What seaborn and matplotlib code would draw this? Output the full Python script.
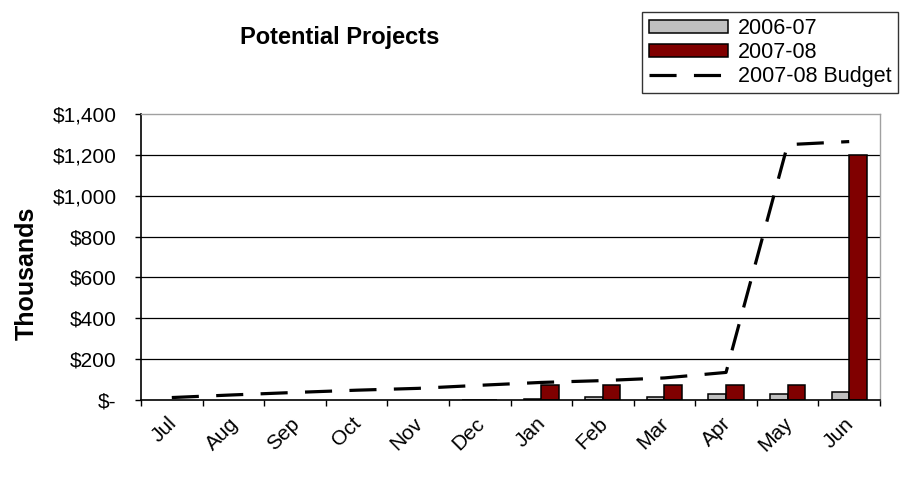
import matplotlib
matplotlib.use('Agg')
import matplotlib.pyplot as plt
import matplotlib.transforms as mtransforms
from matplotlib.patches import Patch
from matplotlib.lines import Line2D
import seaborn as sns
import pandas as pd
import numpy as np

# data (thousands of dollars)
months = ['Jul', 'Aug', 'Sep', 'Oct', 'Nov', 'Dec', 'Jan', 'Feb', 'Mar', 'Apr', 'May', 'Jun']
prior_year = [np.nan, np.nan, np.nan, np.nan, np.nan, 2, 4, 16, 17, 30, 30, 38]
current_year = [np.nan, np.nan, np.nan, np.nan, np.nan, 2, 75, 75, 75, 75, 75, 1200]
budget = [12, 25, 37, 48, 57, 72, 86, 95, 108, 135, 1250, 1265]
y_ticks = [0, 200, 400, 600, 800, 1000, 1200, 1400]
series_names = ['2006-07', '2007-08']
budget_name = '2007-08 Budget'

sns.set_theme(style='white')
plt.rcParams['font.family'] = ['Liberation Sans', 'DejaVu Sans']
plt.rcParams['text.color'] = 'black'
plt.rcParams['xtick.color'] = 'black'
plt.rcParams['ytick.color'] = 'black'
plt.rcParams['xtick.labelcolor'] = 'black'
plt.rcParams['ytick.labelcolor'] = 'black'

df = pd.DataFrame({'month': months, series_names[0]: prior_year, series_names[1]: current_year})
long_df = df.melt(id_vars='month', var_name='series', value_name='value')

colors = {series_names[0]: '#C0C0C0', series_names[1]: '#800000'}

fig = plt.figure(figsize=(9.06, 4.93), dpi=100)
ax = fig.add_axes([141 / 906, 1 - 400 / 493, 739 / 906, 286 / 493])

sns.barplot(data=long_df, x='month', y='value', hue='series', order=months,
            hue_order=series_names, palette=colors, saturation=1, width=0.57,
            edgecolor='black', linewidth=1.1, errorbar=None, ax=ax)
if ax.get_legend() is not None:
    ax.get_legend().remove()

lw = 2.3
dash = (0, (19.5 / lw, 12.5 / lw))
ax.plot(np.arange(len(months)), budget, color='black', lw=lw, linestyle=dash, zorder=5)

# axes styling
ax.set_xlim(-0.5, len(months) - 0.5)
ax.set_ylim(0, 1400)
ax.set_yticks(y_ticks)
ax.set_yticklabels(['$-' if v == 0 else f'${v:,}' for v in y_ticks], fontsize=15)
ax.set_xticks(np.arange(len(months)))
ax.set_xticklabels(months, fontsize=15, rotation=45, ha='right', rotation_mode='anchor')
ax.set_xticks(np.arange(len(months) + 1) - 0.5, minor=True)
ax.tick_params(axis='x', which='major', length=0, pad=10)
ax.tick_params(axis='x', which='minor', length=4.5, width=1, color='black', direction='out', bottom=True)
ax.tick_params(axis='y', length=4.5, width=1, color='black', direction='out', left=True, pad=13)
ax.set_xlabel('')
ax.set_ylabel('')

# nudge the rotated month labels left a little, like the reference
shift = mtransforms.ScaledTranslation(-5 / 100, 0, fig.dpi_scale_trans)
for lab in ax.get_xticklabels():
    lab.set_transform(lab.get_transform() + shift)

for v in y_ticks[1:-1]:
    ax.axhline(v, color='black', lw=0.9, zorder=0)

for side in ['left', 'bottom']:
    ax.spines[side].set_color('black')
    ax.spines[side].set_linewidth(1.2)
for side in ['top', 'right']:
    ax.spines[side].set_color('#A0A0A0')
    ax.spines[side].set_linewidth(1.0)

fig.text(0.375, 0.923, 'Potential Projects', fontsize=17, fontweight='bold', ha='center', va='center')
fig.text(0.030, 0.446, 'Thousands', fontsize=18, fontweight='bold', rotation=90, ha='center', va='center')

handles = [
    Patch(facecolor=colors[series_names[0]], edgecolor='black', linewidth=1.1),
    Patch(facecolor=colors[series_names[1]], edgecolor='black', linewidth=1.1),
    Line2D([0], [0], color='black', lw=lw, linestyle=dash),
]
leg = fig.legend(handles, series_names + [budget_name], loc='upper right',
                 bbox_to_anchor=(898 / 906, 1 - 12 / 493), bbox_transform=fig.transFigure,
                 fontsize=15.5, frameon=True, fancybox=False, borderaxespad=0,
                 handlelength=3.7, handleheight=0.55, handletextpad=0.45,
                 labelspacing=0.12, borderpad=0.3)
leg.get_frame().set_edgecolor('black')
leg.get_frame().set_linewidth(1.0)

fig.savefig('out.png', dpi=100)
